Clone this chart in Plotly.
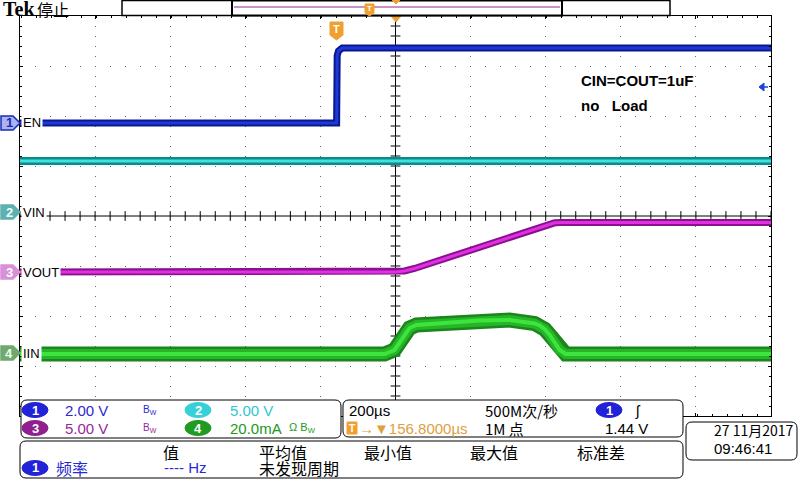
import numpy as np
import plotly.graph_objects as go

# ---------------- data (read from the screen) ----------------
# time in microseconds relative to trigger; screen centre is at +156.8 us, 200 us/div
t_en = [-843.2, 0.0, 1.5, 5.0, 15.0, 1156.8]
v_en = [0.0, 0.0, 2.7, 2.88, 3.0, 3.0]            # V  (CH1, 2 V/div)

t_vin = [-843.2, 1156.8]
v_vin = [5.1, 5.1]                                 # V  (CH2, 5 V/div)

t_vout = [-843.2, 156.8, 180.8, 207.5, 562.1, 580.8, 599.5, 1156.8]
v_vout = [0.0, 0.0, 0.1, 0.35, 4.7, 4.92, 4.95, 4.95]   # V (CH3, 5 V/div)

t_iin = [-843.2, 127.5, 154.1, 167.5, 180.8, 194.1, 212.8, 273.9, 380.6,
         460.6, 527.2, 540.8, 554.1, 567.5, 580.8, 594.1, 610.1, 1156.8]
i_iin = [-0.4, -0.4, 1.2, 4.0, 7.2, 10.0, 11.2, 11.8, 13.0,
         13.2, 11.8, 11.0, 9.5, 7.2, 4.0, 1.2, -0.4, -0.4]  # mA (CH4, 20 mA/div)

ch_labels = ["EN", "VIN", "VOUT", "IIN"]
ch_scales = ["2.00 V", "5.00 V", "5.00 V", "20.0mA"]
timebase = "200µs"
sample_rate = "500M次/秒"
record_len = "1M 点"
trig_delay = "→▼156.8000µs"
trig_level = "1.44 V"
meas_headers = ["值", "平均值", "最小值", "最大值", "标准差"]
date_str = "27 11月2017"
time_str = "09:46:41"

# ---------------- geometry helpers ----------------
W, H = 800, 480
L, R, T, B = 20, 771, 16, 416
X_RANGE = [-843.2, 1156.8]
CENTER_T = 156.8


def px(x):
    return (x - L) / (R - L)


def py(y):
    return (B - y) / (B - T)


def path_px(points, close=True):
    s = "M" + " L".join(f"{px(x):.5f},{py(y):.5f}" for x, y in points)
    return s + (" Z" if close else "")


def rrect(x0, y0, x1, y1, r=6):
    def P(x, y):
        return f"{px(x):.5f},{py(y):.5f}"
    return (f"M{P(x0 + r, y0)} L{P(x1 - r, y0)} Q{P(x1, y0)} {P(x1, y0 + r)} "
            f"L{P(x1, y1 - r)} Q{P(x1, y1)} {P(x1 - r, y1)} L{P(x0 + r, y1)} "
            f"Q{P(x0, y1)} {P(x0, y1 - r)} L{P(x0, y0 + r)} Q{P(x0, y0)} {P(x0 + r, y0)} Z")


def yrange(marker_px, per_px):
    return [-(B - marker_px) * per_px, (marker_px - T) * per_px]


fig = go.Figure()

# centre-cross minor ticks
tick_t = np.arange(X_RANGE[0], X_RANGE[1] + 1, 40.0)
fig.add_trace(go.Scatter(x=tick_t, y=[0] * len(tick_t), mode="markers", yaxis="y",
                         marker=dict(symbol="line-ns", size=7, line=dict(width=1, color="black")),
                         hoverinfo="skip"))
tick_y = np.arange(-4, 4.01, 0.2)
fig.add_trace(go.Scatter(x=[CENTER_T] * len(tick_y), y=tick_y, mode="markers", yaxis="y",
                         marker=dict(symbol="line-ew", size=7, line=dict(width=1, color="black")),
                         hoverinfo="skip"))


def add_channel(t, v, axis, colors_widths):
    for c, w in colors_widths:
        fig.add_trace(go.Scatter(x=t, y=v, yaxis=axis, mode="lines",
                                 line=dict(color=c, width=w), hoverinfo="skip"))


add_channel(t_vin, v_vin, "y3", [("#0a8a8a", 8), ("#3fe0e0", 3)])
add_channel(t_iin, i_iin, "y5", [("#1b861b", 15), ("#26b526", 10), ("#3ee43e", 4)])
add_channel(t_vout, v_vout, "y4", [("#8a1090", 7), ("#e030e0", 3)])
add_channel(t_en, v_en, "y2", [("#0a1890", 7), ("#1d3ad8", 3)])

shapes = []
ann = []

# centre cross
shapes.append(dict(type="line", xref="x", yref="paper", x0=CENTER_T, x1=CENTER_T, y0=0, y1=1,
                   line=dict(color="black", width=1), layer="below"))
shapes.append(dict(type="line", xref="paper", yref="y", x0=0, x1=1, y0=0, y1=0,
                   line=dict(color="black", width=1), layer="below"))

# channel markers on the left
markers = [(123, "1", "#aab4ee", "#1a2ab8", "#1a2ab8"),
           (212, "2", "#5fb0b0", "#5fb0b0", "#eaffff"),
           (272, "3", "#d890d8", "#d890d8", "#ffffff"),
           (353, "4", "#70a870", "#70a870", "#eaffea")]
for (yc, num, fill, line, tc), lab in zip(markers, ch_labels):
    shapes.append(dict(type="path", xref="paper", yref="paper",
                       path=path_px([(1, yc - 7), (13, yc - 7), (20, yc), (13, yc + 7), (1, yc + 7)]),
                       fillcolor=fill, line=dict(color=line, width=1.5), layer="above"))
    ann.append(dict(x=px(9), y=py(yc), text=f"<b>{num}</b>", xanchor="center",
                    font=dict(family="Liberation Sans", size=13, color=tc)))
    ann.append(dict(x=px(21), y=py(yc), text=lab, xanchor="left", bgcolor="white", borderpad=1,
                    font=dict(family="Liberation Sans", size=13, color="black")))

# trigger position marker
shapes.append(dict(type="path", xref="paper", yref="paper",
                   path=path_px([(330, 22), (343, 22), (343, 35), (336.5, 40), (330, 35)]),
                   fillcolor="#f0a030", line=dict(color="#f0a030", width=1), layer="above"))
ann.append(dict(x=px(336.5), y=py(29.5), text="<b>T</b>", font=dict(family="Liberation Sans", size=11, color="white")))
# centre (delay) marker
shapes.append(dict(type="path", xref="paper", yref="paper",
                   path=path_px([(391, 16), (401, 16), (396, 22)]),
                   fillcolor="#f0a030", line=dict(color="#f0a030", width=1), layer="above"))
# trigger level arrow
shapes.append(dict(type="path", xref="paper", yref="paper",
                   path=path_px([(759, 87), (764, 83), (764, 91)]),
                   fillcolor="#2040e0", line=dict(color="#2040e0", width=1), layer="above"))
shapes.append(dict(type="line", xref="paper", yref="paper", x0=px(763), x1=px(768), y0=py(87), y1=py(87),
                   line=dict(color="#2040e0", width=1.5), layer="above"))

# record bar at top
shapes.append(dict(type="rect", xref="paper", yref="paper", x0=px(122), x1=px(670), y0=py(0.5), y1=py(15.5),
                   line=dict(color="black", width=1.5), fillcolor="white", layer="above"))
shapes.append(dict(type="rect", xref="paper", yref="paper", x0=px(232), x1=px(562), y0=py(0.5), y1=py(15.5),
                   line=dict(color="black", width=2), fillcolor="white", layer="above"))
shapes.append(dict(type="line", xref="paper", yref="paper", x0=px(234), x1=px(560), y0=py(7), y1=py(7),
                   line=dict(color="#902890", width=1.2), layer="above"))
shapes.append(dict(type="path", xref="paper", yref="paper",
                   path=path_px([(365, 4), (374, 4), (374, 13), (369.5, 16), (365, 13)]),
                   fillcolor="#f0a030", line=dict(color="#f0a030", width=1), layer="above"))
ann.append(dict(x=px(369.5), y=py(9), text="<b>T</b>", font=dict(family="Liberation Sans", size=8, color="white")))
shapes.append(dict(type="path", xref="paper", yref="paper",
                   path=path_px([(392, 0), (400, 0), (396, 4)]),
                   fillcolor="#f0a030", line=dict(color="#f0a030", width=1), layer="above"))

ann.append(dict(x=px(1), y=py(9), text="<b>Tek</b>", xanchor="left",
                font=dict(family="Liberation Serif", size=20, color="black")))
ann.append(dict(x=px(35), y=py(9), text="停止", xanchor="left",
                font=dict(family="Noto Sans CJK SC", size=16, color="black")))

# notes
ann.append(dict(x=px(579), y=py(80), text="<b>CIN=COUT=1uF</b>", xanchor="left",
                font=dict(family="Liberation Sans", size=15, color="black")))
ann.append(dict(x=px(579), y=py(105), text="<b>no   Load</b>", xanchor="left",
                font=dict(family="Liberation Sans", size=15, color="black")))

# ---------------- bottom panels ----------------
for (x0, y0, x1, y1) in [(21, 400, 341, 438), (343, 400, 683, 437), (20, 441, 683, 478), (686, 422, 797, 460)]:
    shapes.append(dict(type="path", xref="paper", yref="paper", path=rrect(x0, y0, x1, y1),
                       fillcolor="white", line=dict(color="black", width=1), layer="above"))


def pill(xc, yc, num, color, tcol="white"):
    shapes.append(dict(type="circle", xref="paper", yref="paper", x0=px(xc - 13), x1=px(xc + 13),
                       y0=py(yc - 7.5), y1=py(yc + 7.5), fillcolor=color, line=dict(color=color, width=1),
                       layer="above"))
    ann.append(dict(x=px(xc), y=py(yc), text=f"<b>{num}</b>", xanchor="center",
                    font=dict(family="Liberation Sans", size=13, color=tcol)))


def txt(x, y, s, color="black", size=15, fam="Liberation Sans", anchor="left"):
    ann.append(dict(x=px(x), y=py(y), text=s, xanchor=anchor,
                    font=dict(family=fam, size=size, color=color)))


BLUE, CYAN, PURPLE, GREEN, ORANGE = "#2a2ad0", "#30c8d0", "#982898", "#229922", "#e0a040"
CJK = "Noto Sans CJK SC"

pill(35, 410, "1", "#2222d8")
txt(63, 410, ch_scales[0], BLUE)
txt(141, 410, "B<sub>W</sub>", BLUE, size=10)
pill(198, 410, "2", "#38d0d8")
txt(228, 410, ch_scales[1], CYAN)
pill(35, 428, "3", "#902090")
txt(63, 428, ch_scales[2], PURPLE)
txt(141, 428, "B<sub>W</sub>", PURPLE, size=10)
pill(198, 428, "4", "#209a20")
txt(228, 428, ch_scales[3], GREEN)
txt(287, 428, "Ω B<sub>W</sub>", GREEN, size=11)

txt(347, 410, timebase)
txt(483, 410, sample_rate, fam=CJK, size=15)
pill(609, 410, "1", "#2222d8")
txt(633, 410, "ʃ", size=15)
shapes.append(dict(type="path", xref="paper", yref="paper",
                   path=path_px([(347, 422), (357, 422), (357, 434), (347, 434)]),
                   fillcolor="#f0a030", line=dict(color="#f0a030", width=1), layer="above"))
ann.append(dict(x=px(352), y=py(428), text="<b>T</b>", xanchor="center",
                font=dict(family="Liberation Sans", size=10, color="white")))
txt(357, 428, trig_delay, ORANGE)
txt(483, 428, record_len, fam=CJK, size=15)
txt(603, 428, trig_level)

for xh, h in zip([161, 257, 362, 468, 575], meas_headers):
    txt(xh, 452, h, fam=CJK, size=16)
pill(35, 468, "1", "#2222d8")
txt(54, 468, "频率", BLUE, fam=CJK, size=16)
txt(162, 468, "---- Hz", BLUE)
txt(257, 468, "未发现周期", fam=CJK, size=16)

txt(712, 430, date_str, fam=CJK, size=14)
txt(712, 448, time_str)

for a in ann:
    a.setdefault("xref", "paper")
    a.setdefault("yref", "paper")
    a.setdefault("showarrow", False)
    a.setdefault("yanchor", "middle")
    a.setdefault("xanchor", "center")

hidden = dict(visible=False, overlaying="y", fixedrange=True)
fig.update_layout(
    width=W, height=H,
    margin=dict(l=L, r=W - R, t=T, b=H - B, pad=0),
    paper_bgcolor="white", plot_bgcolor="white", showlegend=False,
    xaxis=dict(range=X_RANGE, tickmode="linear", tick0=X_RANGE[0], dtick=200,
               showgrid=True, gridcolor="#6a6a6a", gridwidth=1, griddash="1px,9px",
               zeroline=False, showticklabels=False, showline=True, linecolor="black",
               linewidth=1, mirror="ticks", ticks="inside", ticklen=3, tickcolor="black",
               minor=dict(dtick=40, ticks="inside", ticklen=2, tickcolor="black")),
    yaxis=dict(range=[-4, 4], tickmode="linear", tick0=-4, dtick=1,
               showgrid=True, gridcolor="#6a6a6a", gridwidth=1, griddash="1px,14px",
               zeroline=False, showticklabels=False, showline=True, linecolor="black",
               linewidth=1, mirror="ticks", ticks="inside", ticklen=3, tickcolor="black",
               minor=dict(dtick=0.2, ticks="inside", ticklen=2, tickcolor="black")),
    yaxis2=dict(range=yrange(123, 2.0 / 50), **hidden),
    yaxis3=dict(range=yrange(212, 5.0 / 50), **hidden),
    yaxis4=dict(range=yrange(272, 5.0 / 50), **hidden),
    yaxis5=dict(range=yrange(353, 20.0 / 50), **hidden),
    shapes=shapes,
    annotations=ann,
)

fig.write_html("out.html", config={"displayModeBar": False},
               post_script="document.body.style.margin='0';document.body.style.overflow='hidden';")
